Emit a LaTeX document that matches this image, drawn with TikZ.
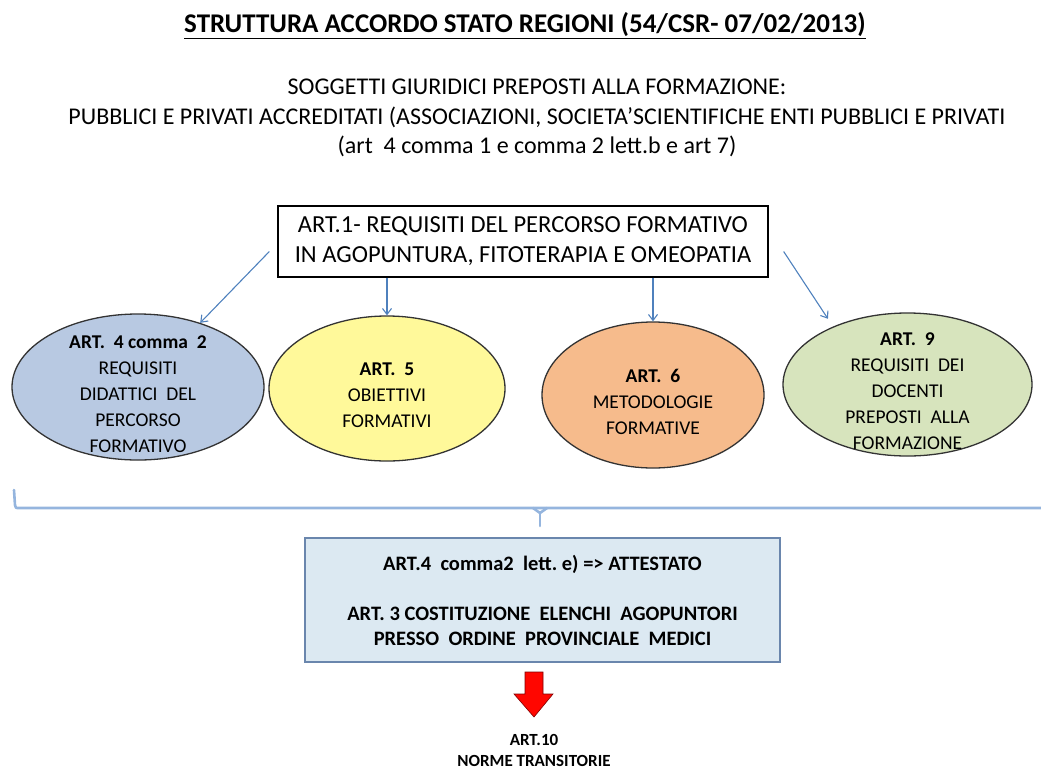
\documentclass[tikz,border=0pt]{standalone}
\usepackage{fontspec}
\setmainfont{Carlito}
\usepackage{tikz}
\usetikzlibrary{arrows.meta}
\usetikzlibrary{shapes.geometric}

\definecolor{linkblue}{HTML}{4F81BD}
\definecolor{braceblue}{HTML}{95B5DE}
\definecolor{ovalblue}{HTML}{B8C9E2}
\definecolor{ovalyellow}{HTML}{FFF99A}
\definecolor{ovalorange}{HTML}{F6BB8C}
\definecolor{ovalgreen}{HTML}{D7E4BD}
\definecolor{boxfill}{HTML}{DCE9F2}
\definecolor{boxline}{HTML}{6A86AD}

\newcommand{\ovaltext}[1]{\raisebox{-13pt}[0pt][0pt]{\begin{tabular}{@{}c@{}}#1\end{tabular}}}

\tikzset{
  oval/.style={ellipse, draw=black!80, line width=1.3pt, align=center,
    inner sep=0pt, font=\fontsize{19.5}{26}\selectfont},
  link/.style={->, >={Straight Barb[length=6pt,width=9pt]}, draw=linkblue, line width=1.1pt},
}

\begin{document}
\begin{tikzpicture}[x=1pt,y=-1pt]
        \useasboundingbox (0,0) rectangle (1041,769);

        % heading
        \node (title) at (525,26) {\fontsize{27}{32}\selectfont\bfseries\underline{STRUTTURA ACCORDO STATO REGIONI (54/CSR- 07/02/2013)}};
        \node[align=center, font=\fontsize{24}{29.5}\selectfont] (subj) at (537,118)
          {SOGGETTI GIURIDICI PREPOSTI ALLA FORMAZIONE:\\
           PUBBLICI E PRIVATI ACCREDITATI (ASSOCIAZIONI, SOCIETA'SCIENTIFICHE ENTI PUBBLICI E PRIVATI\\
           (art\ \ 4 comma 1 e comma 2 lett.b e art 7)};

        % art. 1
        \node[draw, line width=1.3pt, minimum width=490pt, minimum height=71pt, align=center,
          font=\fontsize{24.5}{30}\selectfont] (art1) at (523,241.5)
          {ART.1- REQUISITI DEL PERCORSO FORMATIVO\\IN AGOPUNTURA, FITOTERAPIA E OMEOPATIA};

        % ovals
        \node[oval, fill=ovalblue, minimum width=252pt, minimum height=146pt] (art4) at (138,387)
          {\ovaltext{\textbf{ART.\ \ 4 comma\ \ 2}\\REQUISITI\\DIDATTICI\ \ DEL\\PERCORSO\\FORMATIVO}};
        \node[oval, fill=ovalyellow, minimum width=236pt, minimum height=145pt] (art5) at (387,388.5)
          {\ovaltext{\textbf{ART.\ \ 5}\\OBIETTIVI\\FORMATIVI}};
        \node[oval, fill=ovalorange, minimum width=222pt, minimum height=146pt] (art6) at (653,395)
          {\ovaltext{\textbf{ART.\ \ 6}\\METODOLOGIE\\FORMATIVE}};
        \node[oval, fill=ovalgreen, minimum width=249pt, minimum height=143pt] (art9) at (907.5,384.5)
          {\ovaltext{\textbf{ART.\ \ 9}\\REQUISITI\ \ DEI\\DOCENTI\\PREPOSTI\ \ ALLA\\FORMAZIONE}};

        % arrows from art. 1
        \coordinate (from4) at ([shift={(-8,10)}]art1.west);
        \coordinate (from9) at ([shift={(15,10)}]art1.east);
        \draw[link] (from4) -- (art4);
        \draw[link] (art1.south -| art5.north) -- (art5.north);
        \draw[link] (art1.south -| art6.north) -- (art6.north);
        \draw[link] (from9) -- ([yshift=10pt]art9.145);

        % brace
        \draw[braceblue, line width=2.6pt, line join=round, line cap=round]
          (14,490) -- (15,505) .. controls (15.5,508) .. (19,508) -- (1041,508);
        \draw[braceblue, line width=2.6pt, line cap=round] (533,508) -- (540,513) -- (547,508);
        \node[inner sep=0pt] (brace) at (540,513) {};
        \draw[braceblue, line width=2.6pt, line cap=round] (brace) -- (540,526);

        % art. 4 / art. 3
        \node[draw=boxline, line width=1.6pt, fill=boxfill, minimum width=475pt, minimum height=124pt,
          align=center, font=\fontsize{20.5}{25}\selectfont\bfseries] (attest) at (542.5,600)
          {ART.4\ \ comma2\ \ lett.\ e)\ =>\ ATTESTATO\\[25pt]
           ART.\ 3 COSTITUZIONE\ \ ELENCHI\ \ AGOPUNTORI\\PRESSO\ \ ORDINE\ \ PROVINCIALE\ \ MEDICI};

        % art. 10
        \node[align=center, font=\fontsize{17}{21}\selectfont\bfseries] (art10) at (534,750)
          {ART.10\\NORME TRANSITORIE};
        \filldraw[fill=red!95!orange, draw=red!50!black, line width=0.6pt]
          (525,672) -- (543,672) -- (543,694) -- (553,694) -- (534,717) -- (514,694) -- (525,694) -- cycle;
    \end{tikzpicture}
\end{document}
